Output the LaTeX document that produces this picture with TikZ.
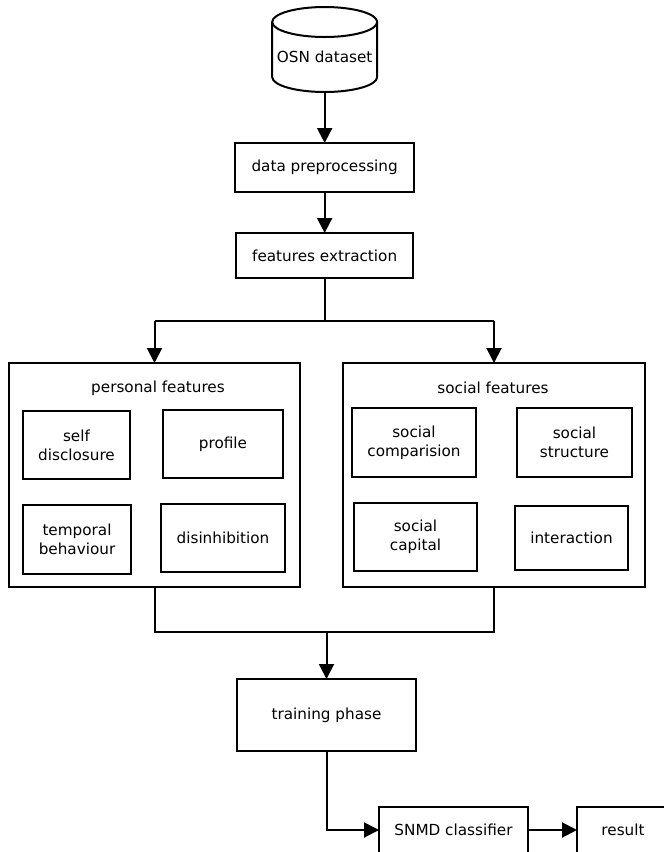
\documentclass[tikz,border=0pt]{standalone}
\usepackage{fontspec}
\setmainfont{DejaVu Sans}
\usetikzlibrary{arrows.meta}

\begin{document}
\begin{tikzpicture}[font=\fontsize{13}{16}\selectfont]

        \tikzset{box/.style = {shape=rectangle,draw,line width=0.05cm,align=center,inner sep=0pt,outer sep=0pt}}
        \tikzset{title/.style = {inner sep=0pt,outer sep=0pt}}
        \tikzset{wire/.style = {line width=0.06cm}}
        \tikzset{arr/.style = {wire,-{Triangle[length=0.45cm,width=0.45cm]}}}

        \useasboundingbox (0,0) rectangle (19.92,-25.56);
        \clip (0,0) rectangle (19.92,-25.56);

        % database
        \node[title, minimum width=3.15cm, minimum height=2.1cm] (osn) at (9.74,-1.71) {OSN dataset};
        \draw[wire] (osn.north west) arc[start angle=180, end angle=0, x radius=1.575cm, y radius=0.45cm]
            -- ([yshift=0.45cm]osn.south east) arc[start angle=0, end angle=-180, x radius=1.575cm, y radius=0.45cm] -- cycle;
        \draw[wire] (osn.north west) arc[start angle=180, end angle=360, x radius=1.575cm, y radius=0.45cm];

        \node[box, minimum width=5.37cm, minimum height=1.47cm] (prep) at (9.74,-5.025) {data preprocessing};
        \node[box, minimum width=5.31cm, minimum height=1.35cm] (feat) at (9.74,-7.665) {features extraction};

        \node[box, minimum width=8.73cm, minimum height=6.72cm] (pers) at (4.635,-14.25) {};
        \node[box, minimum width=9.06cm, minimum height=6.72cm] (soc) at (14.82,-14.25) {};
        \node[title] (perst) at (4.74,-11.64) {personal features};
        \node[title] (soct) at (14.79,-11.64) {social features};

        \node[box, minimum width=3.21cm, minimum height=2.04cm] (selfd) at (2.295,-13.35) {self\\disclosure};
        \node[box, minimum width=3.6cm, minimum height=2.04cm] (prof) at (6.69,-13.32) {profile};
        \node[box, minimum width=3.24cm, minimum height=2.07cm] (temp) at (2.31,-16.185) {temporal\\behaviour};
        \node[box, minimum width=3.72cm, minimum height=2.04cm] (disinh) at (6.69,-16.14) {disinhibition};

        \node[box, minimum width=3.72cm, minimum height=2.07cm] (scomp) at (12.42,-13.275) {social\\comparision};
        \node[box, minimum width=3.45cm, minimum height=2.07cm] (sstruct) at (17.235,-13.275) {social\\structure};
        \node[box, minimum width=3.69cm, minimum height=2.04cm] (scap) at (12.465,-16.11) {social\\capital};
        \node[box, minimum width=3.39cm, minimum height=1.92cm] (inter) at (17.145,-16.14) {interaction};

        \node[box, minimum width=5.37cm, minimum height=2.16cm] (train) at (9.795,-21.45) {training phase};
        \node[box, minimum width=4.47cm, minimum height=1.38cm] (snmd) at (13.605,-24.9) {SNMD classifier};
        \node[box, minimum width=2.76cm, minimum height=1.38cm] (res) at (18.69,-24.9) {result};

        \coordinate (split) at (9.74,-9.63);
        \coordinate (merge) at (9.795,-18.96);

        \draw[arr] (osn.south) -- (prep.north);
        \draw[arr] (prep.south) -- (feat.north);
        \draw[wire] (feat.south) -- (split);
        \draw[wire] (split -| pers.north) -- (split -| soc.north);
        \draw[arr] (split -| pers.north) -- (pers.north);
        \draw[arr] (split -| soc.north) -- (soc.north);

        \draw[wire] (pers.south) -- (pers.south |- merge) -- (soc.south |- merge) -- (soc.south);
        \draw[arr] (merge) -- (train.north);
        \draw[arr] (train.south) |- (snmd.west);
        \draw[arr] (snmd.east) -- (res.west);
\end{tikzpicture}
\end{document}
